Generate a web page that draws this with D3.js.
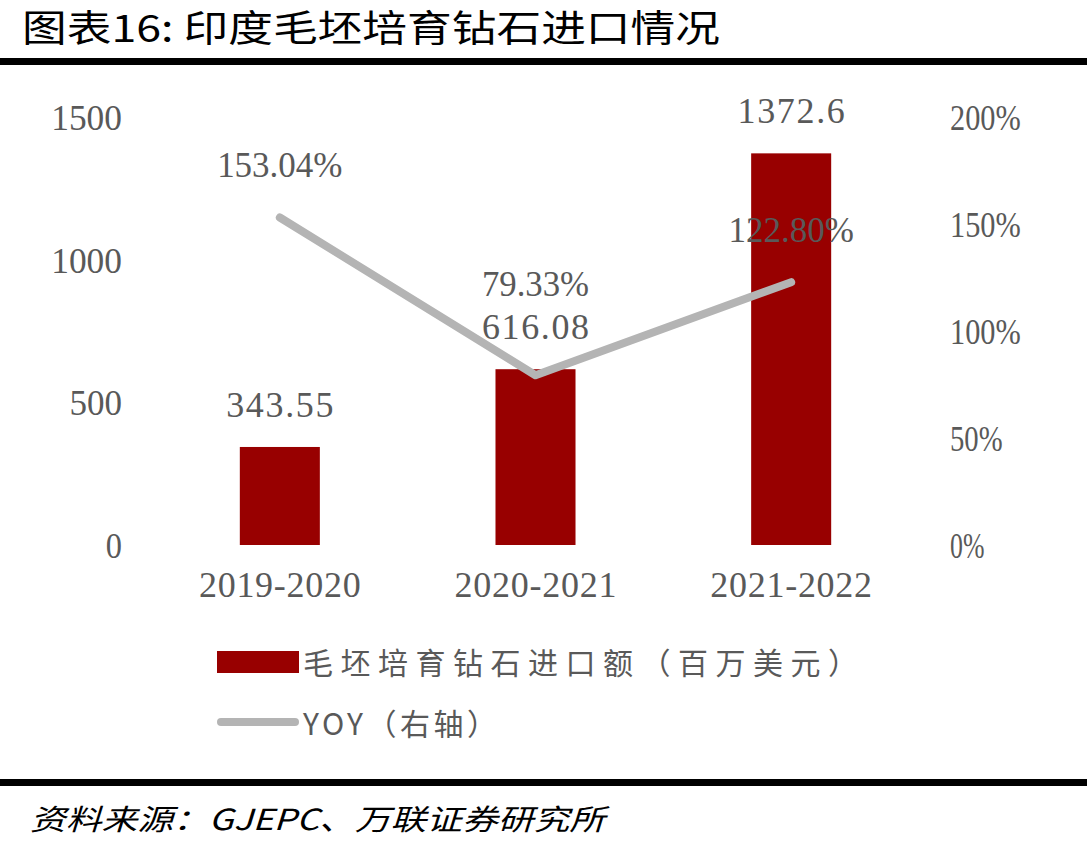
<!DOCTYPE html>
<html>
<head>
<meta charset="utf-8">
<script src="https://cdn.jsdelivr.net/npm/d3@7"></script>
<style>
  body { margin: 0; background: #fff; }
  svg { display: block; }
  .num { font-family: "Liberation Serif", "Times New Roman", serif; fill: #595959; }
  .cjk { font-family: "Noto Sans CJK SC", sans-serif; }
</style>
</head>
<body>
<div id="chart"></div>
<script>
// data
const categories = ['2019-2020', '2020-2021', '2021-2022']
const importValues = [343.55, 616.08, 1372.6]
const importLabels = ['343.55', '616.08', '1372.6']
const yoyValues = [153.04, 79.33, 122.80]
const yoyLabels = ['153.04%', '79.33%', '122.80%']
const leftTicks = [0, 500, 1000, 1500]
const rightTicks = [0, 50, 100, 150, 200]

const width = 1087, height = 852
const plot = { left: 152, right: 919, top: 117, bottom: 545 }
const charAdv = 18.2   // the numeric labels are laid out on a fixed pitch

const svg = d3.select('#chart').append('svg')
    .attr('width', width)
    .attr('height', height)

const x = d3.scaleBand()
    .domain(categories)
    .range([plot.left, plot.right])
    .paddingInner(0.687)
    .paddingOuter(0.3435)

const yLeft = d3.scaleLinear().domain([0, 1500]).range([plot.bottom, plot.top])
const yRight = d3.scaleLinear().domain([0, 200]).range([plot.bottom, plot.top])

// fixed pitch numeric text: spread it out, or squeeze the glyphs if it is too wide
function numText(sel, str, size) {
    sel.text(str)
        .attr('class', 'num')
        .attr('font-size', size || 36)
    let target = str.length * charAdv - 2
    let natural = sel.node().getComputedTextLength()
    sel.attr('textLength', target)
        .attr('lengthAdjust', natural > target ? 'spacingAndGlyphs' : 'spacing')
    return sel
}

// title + rules
svg.append('text')
    .attr('class', 'cjk')
    .attr('x', 22).attr('y', 42)
    .attr('font-size', 37)
    .attr('font-weight', 400)
    .attr('fill', '#000')
    .attr('textLength', 698)
    .attr('lengthAdjust', 'spacingAndGlyphs')
    .text('图表16:  印度毛坯培育钻石进口情况')

svg.append('rect').attr('x', 0).attr('y', 58).attr('width', width).attr('height', 7).attr('fill', '#000')
svg.append('rect').attr('x', 0).attr('y', 779).attr('width', width).attr('height', 7).attr('fill', '#000')

// axes (labels only, no lines)
const leftAxis = d3.axisLeft(yLeft).tickValues(leftTicks).tickSize(0).tickFormat(d3.format('d'))
const gl = svg.append('g').attr('transform', `translate(122,0)`).call(leftAxis)
gl.select('.domain').remove()
gl.selectAll('.tick text').each(function (d) {
    numText(d3.select(this), String(d)).attr('x', 0).attr('dy', '0.35em').attr('text-anchor', 'end')
})

const rightAxis = d3.axisRight(yRight).tickValues(rightTicks).tickSize(0).tickFormat(d => d + '%')
const gr = svg.append('g').attr('transform', `translate(950,0)`).call(rightAxis)
gr.select('.domain').remove()
gr.selectAll('.tick text').each(function (d) {
    numText(d3.select(this), d + '%').attr('x', 0).attr('dy', '0.35em').attr('text-anchor', 'start')
})

const bottomAxis = d3.axisBottom(x).tickSize(0)
const gb = svg.append('g').attr('transform', `translate(0,${plot.bottom})`).call(bottomAxis)
gb.select('.domain').remove()
gb.selectAll('.tick text').each(function (d) {
    numText(d3.select(this), d).attr('y', 52).attr('dy', 0).attr('text-anchor', 'middle')
})

// bars
svg.selectAll('.bar')
    .data(importValues)
    .enter()
    .append('rect')
    .attr('class', 'bar')
    .attr('x', (d, i) => x(categories[i]))
    .attr('y', d => yLeft(d))
    .attr('width', x.bandwidth())
    .attr('height', d => yLeft(0) - yLeft(d))
    .attr('fill', '#980000')

svg.selectAll('.bar-label')
    .data(importValues)
    .enter()
    .append('text')
    .each(function (d, i) {
        numText(d3.select(this), importLabels[i])
            .attr('x', x(categories[i]) + x.bandwidth() / 2)
            .attr('y', yLeft(d) - 30)
            .attr('text-anchor', 'middle')
    })

// yoy line
const cx = i => x(categories[i]) + x.bandwidth() / 2
const line = d3.line()
    .x((d, i) => cx(i))
    .y(d => yRight(d))

svg.append('path')
    .datum(yoyValues)
    .attr('d', line)
    .attr('fill', 'none')
    .attr('stroke', '#b4b4b4')
    .attr('stroke-width', 8)
    .attr('stroke-linecap', 'round')
    .attr('stroke-linejoin', 'round')

// the middle label sits higher so it clears the bar label
const yoyLift = [40, 79, 40]
svg.selectAll('.yoy-label')
    .data(yoyValues)
    .enter()
    .append('text')
    .each(function (d, i) {
        numText(d3.select(this), yoyLabels[i])
            .attr('x', cx(i))
            .attr('y', yRight(d) - yoyLift[i])
            .attr('text-anchor', 'middle')
    })

// legend
const lg = svg.append('g')
lg.append('rect').attr('x', 217).attr('y', 651).attr('width', 82).attr('height', 22).attr('fill', '#980000')
lg.append('text')
    .attr('class', 'cjk')
    .attr('x', 303).attr('y', 674)
    .attr('font-size', 30)
    .attr('fill', '#595959')
    .attr('textLength', 555)
    .attr('lengthAdjust', 'spacing')
    .text('毛坯培育钻石进口额（百万美元）')

lg.append('line')
    .attr('x1', 221).attr('x2', 295)
    .attr('y1', 722).attr('y2', 722)
    .attr('stroke', '#b4b4b4')
    .attr('stroke-width', 8)
    .attr('stroke-linecap', 'round')
lg.append('text')
    .attr('class', 'cjk')
    .attr('x', 303).attr('y', 735)
    .attr('font-size', 30)
    .attr('fill', '#595959')
    .attr('textLength', 194)
    .attr('lengthAdjust', 'spacing')
    .text('YOY（右轴）')

// source
svg.append('text')
    .attr('class', 'cjk')
    .attr('x', 30).attr('y', 830)
    .attr('font-size', 29)
    .attr('font-style', 'italic')
    .attr('fill', '#000')
    .attr('textLength', 575)
    .attr('lengthAdjust', 'spacingAndGlyphs')
    .text('资料来源：GJEPC、万联证券研究所')
</script>
</body>
</html>
